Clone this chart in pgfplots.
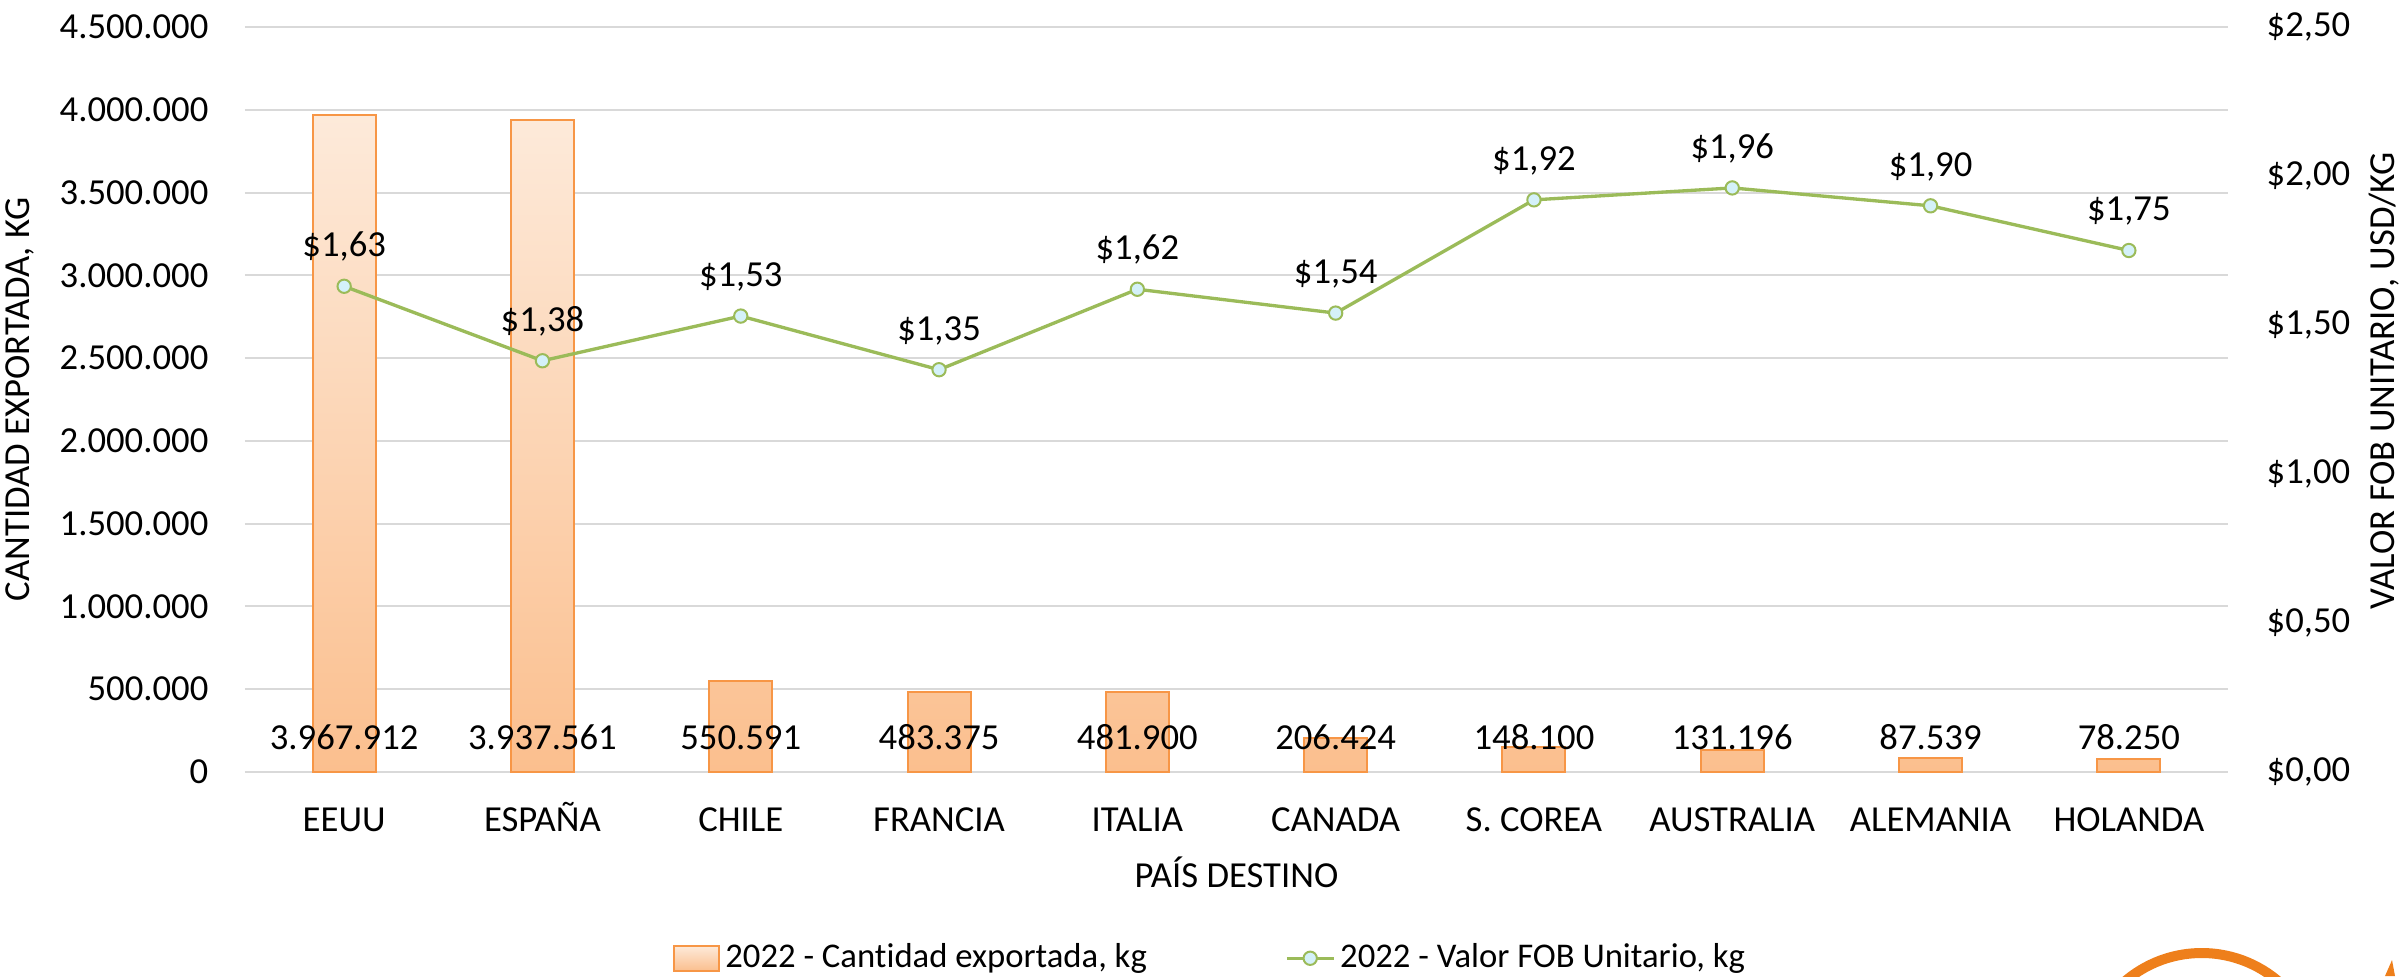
\documentclass[border=0pt]{standalone}
\usepackage{pgfplots}
\usepackage{pgfplotstable}
\pgfplotsset{compat=1.18}
\pgfkeys{/pgf/number format/assume math mode=true}
\usepackage{fontspec}
\setmainfont{Carlito}[Ligatures={NoCommon,NoDiscretionary,NoRare}]
\definecolor{barTop}{HTML}{FDEADA}
\definecolor{barBot}{HTML}{FBBF8E}
\definecolor{barEdge}{HTML}{F79646}
\definecolor{lineG}{HTML}{9BBB59}
\definecolor{markF}{HTML}{D4F1F9}
\definecolor{gridC}{HTML}{D9D9D9}
\definecolor{logoO}{HTML}{EE7F1B}

\pgfplotstableread{
x q p
0 3967912 1.63
1 3937561 1.38
2 550591 1.53
3 483375 1.35
4 481900 1.62
5 206424 1.54
6 148100 1.92
7 131196 1.96
8 87539 1.90
9 78250 1.75
}\datatable

\begin{document}
\begin{tikzpicture}
\useasboundingbox (-73.5pt,-61.2pt) rectangle (648.6pt,231.6pt);
\pgfplotsset{
  base/.style={
    scale only axis, width=594.9pt, height=223.5pt,
    xmin=-0.5, xmax=9.5,
    font=\fontsize{11}{13}\selectfont,
    major tick length=0pt,
    axis line style={draw=none},
    tick style={draw=none},
  }
}
\begin{axis}[base,
  axis x line*=bottom, axis y line*=left,
  ymin=0, ymax=4500000,
  ytick={0,500000,1000000,1500000,2000000,2500000,3000000,3500000,4000000,4500000},
  scaled y ticks=false,
  ymajorgrids, major grid style={gridC, line width=0.6pt},
  y tick label style={anchor=east, xshift=-10.8pt, inner sep=0pt,
    /pgf/number format/fixed, /pgf/number format/precision=0, /pgf/number format/1000 sep={.}},
  xtick={0,1,2,3,4,5,6,7,8,9},
  xticklabels={EEUU,ESPAÑA,CHILE,FRANCIA,ITALIA,CANADA,S. COREA,AUSTRALIA,ALEMANIA,HOLANDA},
  x tick label style={anchor=base, yshift=-17.9pt, inner sep=0pt},
  ylabel={CANTIDAD EXPORTADA, KG},
  every axis y label/.style={at={(axis description cs:-0.1135,0.5)}, rotate=90, anchor=center},
  xlabel={PAÍS DESTINO},
  every axis x label/.style={at={(axis description cs:0.5,-0.1342)}, anchor=center},
]
\addplot[ybar, bar width=18.9pt, draw=barEdge, line width=0.6pt, top color=barTop, bottom color=barBot]
  table[x=x, y=q]{\datatable};
\addplot[draw=none, mark=none, point meta=explicit symbolic,
  nodes near coords={\pgfmathprintnumber[fixed,precision=0,1000 sep={.}]{\pgfplotspointmeta}},
  every node near coord/.append style={anchor=base, inner sep=0pt, font=\fontsize{11}{13}\selectfont}]
  table[x=x, y expr=136000, meta=q]{\datatable};
\end{axis}
\begin{axis}[base,
  axis y line*=right, axis x line=none,
  ymin=0, ymax=2.5,
  ytick={0,0.5,1,1.5,2,2.5},
  yticklabel={\$\pgfmathprintnumber[fixed,fixed zerofill,precision=2,use comma]{\tick}},
  y tick label style={anchor=west, xshift=11.4pt, inner sep=0pt},
  ylabel={VALOR FOB UNITARIO, USD/KG},
  every axis y label/.style={at={(axis description cs:1.0787,0.525)}, rotate=90, anchor=center},
  legend style={at={(axis description cs:0.4875,-0.25)}, anchor=center, draw=none, fill=none,
    legend columns=2, font=\fontsize{10.4}{13}\selectfont,
    nodes={inner xsep=1.5pt},
    /tikz/every even column/.append style={column sep=40pt}},
  legend cell align=left,
]
\addlegendimage{legend image code/.code={\draw[draw=barEdge, top color=barTop, bottom color=barBot, line width=0.6pt] (0pt,-3.8pt) rectangle (13.5pt,3.8pt);}}
\addlegendentry{2022 - Cantidad exportada, kg}
\addplot[lineG, line width=1pt, mark=*, mark size=2pt, mark options={fill=markF, draw=lineG, line width=0.6pt},
  legend image code/.code={\draw[lineG, line width=1pt] (0pt,0pt) -- (14pt,0pt);
    \draw[fill=markF, draw=lineG, line width=0.6pt] (7pt,0pt) circle (2pt);},
  nodes near coords={\$\pgfmathprintnumber[fixed,fixed zerofill,precision=2,use comma]{\pgfplotspointmeta}},
  point meta=y,
  every node near coord/.append style={anchor=base, inner sep=0pt, yshift=8.9pt, text=black, font=\fontsize{11}{13}\selectfont}]
  table[x=x, y=p]{\datatable};
\addlegendentry{2022 - Valor FOB Unitario, kg}
\end{axis}
\draw[logoO, line width=3pt] (587pt,-89.7pt) circle (35.4pt);
\fill[logoO] (642pt,-61.2pt) -- (644.1pt,-56.4pt) -- (645pt,-61.2pt) -- cycle;
\end{tikzpicture}
\end{document}
